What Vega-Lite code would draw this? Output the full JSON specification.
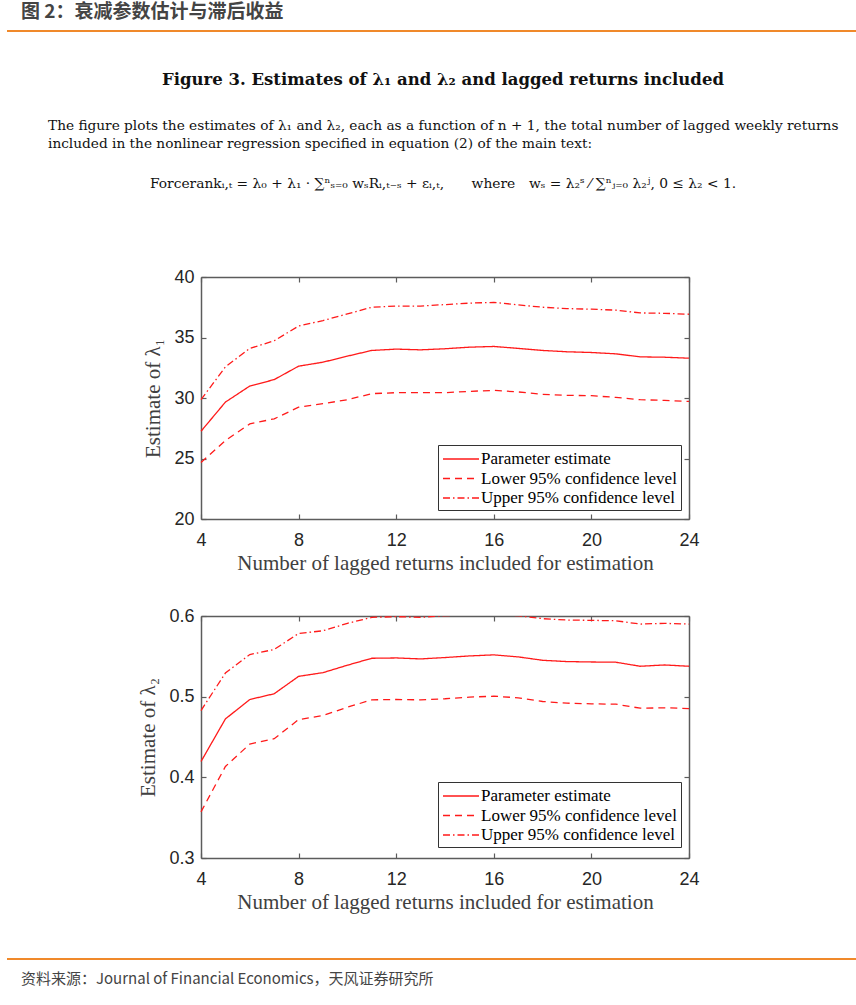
{
  "$schema": "https://vega.github.io/schema/vega-lite/v6.json",
  "padding": {"left": 7, "top": 0, "right": 0, "bottom": 0},
  "background": "white",
  "bounds": "flush",
  "spacing": 0,
  "resolve": {"scale": {"strokeDash": "independent"}, "legend": {"strokeDash": "independent"}},
  "config": {
    "view": {"stroke": null},
    "axis": {"grid": false, "labelFlush": false, "labelOverlap": false,
      "labelFont": "Liberation Sans", "labelFontSize": 18, "labelColor": "#262626",
      "titleFont": "Liberation Serif", "titleFontSize": 21, "titleColor": "#404040", "titleFontWeight": "normal",
      "domainColor": "#5c5c5c", "tickColor": "#5c5c5c", "domainWidth": 1.5, "tickWidth": 1.2, "tickSize": -5}
  },
  "datasets": {
    "l1": [
      {"n":4,"s":"Parameter estimate","v":27.25},{"n":5,"s":"Parameter estimate","v":29.66},{"n":6,"s":"Parameter estimate","v":30.99},{"n":7,"s":"Parameter estimate","v":31.52},{"n":8,"s":"Parameter estimate","v":32.63},{"n":9,"s":"Parameter estimate","v":32.96},{"n":10,"s":"Parameter estimate","v":33.46},{"n":11,"s":"Parameter estimate","v":33.93},{"n":12,"s":"Parameter estimate","v":34.04},{"n":13,"s":"Parameter estimate","v":33.98},{"n":14,"s":"Parameter estimate","v":34.07},{"n":15,"s":"Parameter estimate","v":34.2},{"n":16,"s":"Parameter estimate","v":34.26},{"n":17,"s":"Parameter estimate","v":34.1},{"n":18,"s":"Parameter estimate","v":33.93},{"n":19,"s":"Parameter estimate","v":33.82},{"n":20,"s":"Parameter estimate","v":33.76},{"n":21,"s":"Parameter estimate","v":33.65},{"n":22,"s":"Parameter estimate","v":33.4},{"n":23,"s":"Parameter estimate","v":33.37},{"n":24,"s":"Parameter estimate","v":33.29},
      {"n":4,"s":"Lower 95% confidence level","v":24.67},{"n":5,"s":"Lower 95% confidence level","v":26.48},{"n":6,"s":"Lower 95% confidence level","v":27.86},{"n":7,"s":"Lower 95% confidence level","v":28.28},{"n":8,"s":"Lower 95% confidence level","v":29.24},{"n":9,"s":"Lower 95% confidence level","v":29.53},{"n":10,"s":"Lower 95% confidence level","v":29.86},{"n":11,"s":"Lower 95% confidence level","v":30.36},{"n":12,"s":"Lower 95% confidence level","v":30.44},{"n":13,"s":"Lower 95% confidence level","v":30.44},{"n":14,"s":"Lower 95% confidence level","v":30.44},{"n":15,"s":"Lower 95% confidence level","v":30.55},{"n":16,"s":"Lower 95% confidence level","v":30.63},{"n":17,"s":"Lower 95% confidence level","v":30.5},{"n":18,"s":"Lower 95% confidence level","v":30.3},{"n":19,"s":"Lower 95% confidence level","v":30.22},{"n":20,"s":"Lower 95% confidence level","v":30.19},{"n":21,"s":"Lower 95% confidence level","v":30.05},{"n":22,"s":"Lower 95% confidence level","v":29.86},{"n":23,"s":"Lower 95% confidence level","v":29.8},{"n":24,"s":"Lower 95% confidence level","v":29.72},
      {"n":4,"s":"Upper 95% confidence level","v":29.86},{"n":5,"s":"Upper 95% confidence level","v":32.57},{"n":6,"s":"Upper 95% confidence level","v":34.1},{"n":7,"s":"Upper 95% confidence level","v":34.73},{"n":8,"s":"Upper 95% confidence level","v":35.95},{"n":9,"s":"Upper 95% confidence level","v":36.4},{"n":10,"s":"Upper 95% confidence level","v":36.95},{"n":11,"s":"Upper 95% confidence level","v":37.5},{"n":12,"s":"Upper 95% confidence level","v":37.6},{"n":13,"s":"Upper 95% confidence level","v":37.6},{"n":14,"s":"Upper 95% confidence level","v":37.72},{"n":15,"s":"Upper 95% confidence level","v":37.84},{"n":16,"s":"Upper 95% confidence level","v":37.9},{"n":17,"s":"Upper 95% confidence level","v":37.7},{"n":18,"s":"Upper 95% confidence level","v":37.5},{"n":19,"s":"Upper 95% confidence level","v":37.39},{"n":20,"s":"Upper 95% confidence level","v":37.34},{"n":21,"s":"Upper 95% confidence level","v":37.26},{"n":22,"s":"Upper 95% confidence level","v":37.03},{"n":23,"s":"Upper 95% confidence level","v":37.0},{"n":24,"s":"Upper 95% confidence level","v":36.92}
    ],
    "l2": [
      {"n":4,"s":"Parameter estimate","v":0.4196},{"n":5,"s":"Parameter estimate","v":0.4724},{"n":6,"s":"Parameter estimate","v":0.4965},{"n":7,"s":"Parameter estimate","v":0.5036},{"n":8,"s":"Parameter estimate","v":0.5252},{"n":9,"s":"Parameter estimate","v":0.5298},{"n":10,"s":"Parameter estimate","v":0.539},{"n":11,"s":"Parameter estimate","v":0.5476},{"n":12,"s":"Parameter estimate","v":0.548},{"n":13,"s":"Parameter estimate","v":0.5468},{"n":14,"s":"Parameter estimate","v":0.5485},{"n":15,"s":"Parameter estimate","v":0.5505},{"n":16,"s":"Parameter estimate","v":0.5518},{"n":17,"s":"Parameter estimate","v":0.5493},{"n":18,"s":"Parameter estimate","v":0.5451},{"n":19,"s":"Parameter estimate","v":0.5435},{"n":20,"s":"Parameter estimate","v":0.543},{"n":21,"s":"Parameter estimate","v":0.5427},{"n":22,"s":"Parameter estimate","v":0.5377},{"n":23,"s":"Parameter estimate","v":0.5393},{"n":24,"s":"Parameter estimate","v":0.5377},
      {"n":4,"s":"Lower 95% confidence level","v":0.3572},{"n":5,"s":"Lower 95% confidence level","v":0.4134},{"n":6,"s":"Lower 95% confidence level","v":0.4413},{"n":7,"s":"Lower 95% confidence level","v":0.4479},{"n":8,"s":"Lower 95% confidence level","v":0.4716},{"n":9,"s":"Lower 95% confidence level","v":0.4766},{"n":10,"s":"Lower 95% confidence level","v":0.4869},{"n":11,"s":"Lower 95% confidence level","v":0.4961},{"n":12,"s":"Lower 95% confidence level","v":0.4965},{"n":13,"s":"Lower 95% confidence level","v":0.4961},{"n":14,"s":"Lower 95% confidence level","v":0.4974},{"n":15,"s":"Lower 95% confidence level","v":0.4994},{"n":16,"s":"Lower 95% confidence level","v":0.5006},{"n":17,"s":"Lower 95% confidence level","v":0.4986},{"n":18,"s":"Lower 95% confidence level","v":0.494},{"n":19,"s":"Lower 95% confidence level","v":0.4919},{"n":20,"s":"Lower 95% confidence level","v":0.4911},{"n":21,"s":"Lower 95% confidence level","v":0.4907},{"n":22,"s":"Lower 95% confidence level","v":0.4857},{"n":23,"s":"Lower 95% confidence level","v":0.4862},{"n":24,"s":"Lower 95% confidence level","v":0.4853},
      {"n":4,"s":"Upper 95% confidence level","v":0.4828},{"n":5,"s":"Upper 95% confidence level","v":0.5293},{"n":6,"s":"Upper 95% confidence level","v":0.5522},{"n":7,"s":"Upper 95% confidence level","v":0.5585},{"n":8,"s":"Upper 95% confidence level","v":0.5784},{"n":9,"s":"Upper 95% confidence level","v":0.5817},{"n":10,"s":"Upper 95% confidence level","v":0.5909},{"n":11,"s":"Upper 95% confidence level","v":0.5983},{"n":12,"s":"Upper 95% confidence level","v":0.5992},{"n":13,"s":"Upper 95% confidence level","v":0.5983},{"n":14,"s":"Upper 95% confidence level","v":0.6004},{"n":15,"s":"Upper 95% confidence level","v":0.6016},{"n":16,"s":"Upper 95% confidence level","v":0.602},{"n":17,"s":"Upper 95% confidence level","v":0.6004},{"n":18,"s":"Upper 95% confidence level","v":0.5967},{"n":19,"s":"Upper 95% confidence level","v":0.595},{"n":20,"s":"Upper 95% confidence level","v":0.5946},{"n":21,"s":"Upper 95% confidence level","v":0.5941},{"n":22,"s":"Upper 95% confidence level","v":0.59},{"n":23,"s":"Upper 95% confidence level","v":0.5909},{"n":24,"s":"Upper 95% confidence level","v":0.59}
    ]
  },
  "vconcat": [
    {
      "width": 849, "height": 30,
      "data": {"values": []}, "mark": "point",
      "title": {"text": "图 2：衰减参数估计与滞后收益", "orient": "bottom", "anchor": "start", "frame": "group", "offset": -27, "baseline": "top", "dx": 14,
        "font": "Noto Sans CJK SC", "fontSize": 19, "fontWeight": "bold", "color": "#444444"}
    },
    {
      "width": 849, "height": 2,
      "data": {"values": []}, "mark": "point",
      "view": {"fill": "#f0892a", "stroke": null}
    },
    {
      "width": 849, "height": 40,
      "data": {"values": []}, "mark": "point",
      "title": {"text": "Figure 3.  Estimates of λ₁ and λ₂ and lagged returns included", "orient": "bottom", "anchor": "middle", "frame": "group", "offset": 0, "baseline": "top", "dx": 11.5,
        "font": "DejaVu Serif", "fontSize": 16.5, "fontWeight": "bold", "color": "#111111"}
    },
    {
      "width": 849, "height": 47,
      "data": {"values": []}, "mark": "point",
      "title": {"text": ["The figure plots the estimates of λ₁ and λ₂, each as a function of n + 1, the total number of lagged weekly returns", "included in the nonlinear regression specified in equation (2) of the main text:"], "orient": "bottom", "anchor": "start", "frame": "group", "offset": 0, "baseline": "top", "dx": 41, "lineHeight": 18,
        "font": "DejaVu Serif", "fontSize": 13.7, "fontWeight": "normal", "color": "#111111"}
    },
    {
      "width": 849, "height": 58,
      "data": {"values": []}, "mark": "point",
      "title": {"text": "Forcerankᵢ,ₜ = λ₀ + λ₁ · ∑ⁿₛ₌₀ wₛRᵢ,ₜ₋ₛ + εᵢ,ₜ,\u2003\u2003where\u2003wₛ = λ₂ˢ ⁄ ∑ⁿⱼ₌₀ λ₂ʲ,  0 ≤ λ₂ < 1.", "orient": "bottom", "anchor": "middle", "frame": "group", "offset": 0, "baseline": "top", "dx": 11.5,
        "font": "DejaVu Serif", "fontSize": 13.8, "fontWeight": "normal", "color": "#111111"}
    },
    {
      "width": 849, "height": 100,
      "data": {"values": []}, "mark": "point"
    },
    {
      "width": 849, "height": 242,
      "data": {"name": "l1"},
      "layer": [
        {
          "mark": {"type": "line", "clip": true, "color": "#ff1a1a", "strokeWidth": 1.3},
          "encoding": {
            "x": {"field": "n", "type": "quantitative", "scale": {"domain": [4, 24], "range": [194, 682], "nice": false, "zero": false},
              "axis": {"orient": "bottom", "values": [4, 8, 12, 16, 20, 24], "title": "Number of lagged returns included for estimation", "labelPadding": 17, "titlePadding": 3}},
            "y": {"field": "v", "type": "quantitative", "scale": {"domain": [20, 40], "nice": false, "zero": false},
              "axis": {"orient": "left", "offset": -194, "values": [20, 25, 30, 35, 40], "title": "Estimate of λ₁", "labelPadding": 12, "titlePadding": 10}},
            "strokeDash": {"field": "s", "type": "nominal",
              "scale": {"domain": ["Parameter estimate", "Lower 95% confidence level", "Upper 95% confidence level"], "range": [[1, 0], [7, 5], [7, 3, 1.5, 3]]},
              "legend": {"title": null, "orient": "none", "legendX": 431, "legendY": 168, "symbolType": "M-1,0H3", "symbolSize": 324,
                "symbolStrokeColor": "#ff1a1a", "symbolStrokeWidth": 1.3, "labelFont": "Liberation Serif", "labelFontSize": 17, "labelColor": "#000000", "labelLimit": 400,
                "labelOffset": 19, "padding": 4, "rowPadding": 1.5, "fillColor": "white", "strokeColor": "#333333"}}
          }
        },
        {
          "mark": {"type": "line", "opacity": 0},
          "encoding": {
            "x": {"field": "n", "type": "quantitative", "axis": {"orient": "top", "values": [4, 8, 12, 16, 20, 24], "labels": false, "title": null}},
            "y": {"field": "v", "type": "quantitative", "axis": {"orient": "right", "offset": -167, "values": [20, 25, 30, 35, 40], "labels": false, "title": null}},
            "detail": {"field": "s"}
          }
        }
      ],
      "resolve": {"axis": {"x": "independent", "y": "independent"}}
    },
    {
      "width": 849, "height": 97,
      "data": {"values": []}, "mark": "point"
    },
    {
      "width": 849, "height": 242,
      "data": {"name": "l2"},
      "layer": [
        {
          "mark": {"type": "line", "clip": true, "color": "#ff1a1a", "strokeWidth": 1.3},
          "encoding": {
            "x": {"field": "n", "type": "quantitative", "scale": {"domain": [4, 24], "range": [194, 682], "nice": false, "zero": false},
              "axis": {"orient": "bottom", "values": [4, 8, 12, 16, 20, 24], "title": "Number of lagged returns included for estimation", "labelPadding": 17, "titlePadding": 3}},
            "y": {"field": "v", "type": "quantitative", "scale": {"domain": [0.3, 0.6], "nice": false, "zero": false},
              "axis": {"orient": "left", "offset": -194, "values": [0.3, 0.4, 0.5, 0.6], "format": ".1f", "title": "Estimate of λ₂", "labelPadding": 12, "titlePadding": 10}},
            "strokeDash": {"field": "s", "type": "nominal",
              "scale": {"domain": ["Parameter estimate", "Lower 95% confidence level", "Upper 95% confidence level"], "range": [[1, 0], [7, 5], [7, 3, 1.5, 3]]},
              "legend": {"title": null, "orient": "none", "legendX": 431, "legendY": 166, "symbolType": "M-1,0H3", "symbolSize": 324,
                "symbolStrokeColor": "#ff1a1a", "symbolStrokeWidth": 1.3, "labelFont": "Liberation Serif", "labelFontSize": 17, "labelColor": "#000000", "labelLimit": 400,
                "labelOffset": 19, "padding": 4, "rowPadding": 1.5, "fillColor": "white", "strokeColor": "#333333"}}
          }
        },
        {
          "mark": {"type": "line", "opacity": 0},
          "encoding": {
            "x": {"field": "n", "type": "quantitative", "axis": {"orient": "top", "values": [4, 8, 12, 16, 20, 24], "labels": false, "title": null}},
            "y": {"field": "v", "type": "quantitative", "axis": {"orient": "right", "offset": -167, "values": [0.3, 0.4, 0.5, 0.6], "labels": false, "title": null}},
            "detail": {"field": "s"}
          }
        }
      ],
      "resolve": {"axis": {"x": "independent", "y": "independent"}}
    },
    {
      "width": 849, "height": 100,
      "data": {"values": []}, "mark": "point"
    },
    {
      "width": 849, "height": 2,
      "data": {"values": []}, "mark": "point",
      "view": {"fill": "#f0892a", "stroke": null},
      "title": {"text": "资料来源：Journal of Financial Economics，天风证券研究所", "orient": "bottom", "anchor": "start", "frame": "group", "offset": 11.6, "baseline": "top", "dx": 14,
        "font": "Noto Sans CJK SC", "fontSize": 15, "fontWeight": "normal", "color": "#444444"}
    }
  ]
}
